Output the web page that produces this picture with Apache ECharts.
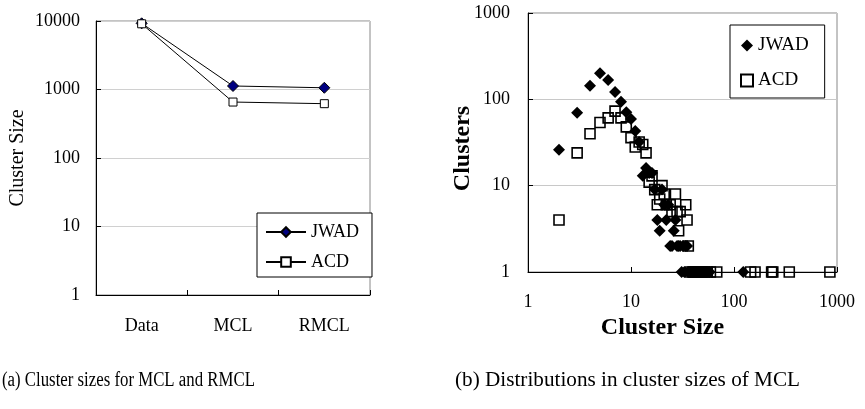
<!DOCTYPE html>
<html>
<head>
<meta charset="utf-8">
<script src="https://cdn.jsdelivr.net/npm/echarts@6/dist/echarts.min.js"></script>
<style>html,body{margin:0;padding:0;background:#fff}#c{width:865px;height:409px}</style>
</head>
<body>
<div id="c"></div>
<script>
// (a) Cluster sizes
const categoriesA = ['Data', 'MCL', 'RMCL'];
const jwadSizes = [9250, 1125, 1060];
const acdSizes = [9100, 656, 621];
const yTicksA = [1, 10, 100, 1000, 10000];

// (b) Distribution: cluster size (x) and number of clusters (y)
const jwadX = [2,3,4,5,6,7,8,9,10,11,12,13,14,15,16,17,18,19,20,21,22,23,24,25,26,27,28,29,30,32,34,35,
  31,33,36,37,38,39,40,41,42,43,44,45,46,47,48,49,50,52,55,58,123];
const jwadY = [26,70,144,200,168,122,94,71,59,43,32,13,16,14,14,9,4,3,9,6,4,6,2,2,3,4,2,2,2,2,2,2,
  1,1,1,1,1,1,1,1,1,1,1,1,1,1,1,1,1,1,1,1,1];
const acdX = [2,3,4,5,6,7,8,9,10,11,12,13,14,15,16,17,18,19,20,21,22,24,25,27,28,29,30,34,35,36,
  38,40,42,45,48,51,55,59,68,145,160,232,238,344,853];
const acdY = [4,24,40,54,61,73,61,48,36,28,32,30,24,11,13,9,6,7,10,8,6,6,5,8,5,3,5,6,4,2,
  1,1,1,1,1,1,1,1,1,1,1,1,1,1,1];
const xTicksB = [1, 10, 100, 1000];
const yTicksB = [1, 10, 100, 1000];

const serif = '"Liberation Serif","Times New Roman",serif';
const chart = echarts.init(document.getElementById('c'), null, {renderer: 'canvas'});

function pairs(xs, ys) { return xs.map((x, i) => [x, ys[i]]); }
const plain = v => String(Math.round(v));

const axisCommon = {
  axisLine: {show: true, lineStyle: {color: '#000', width: 1}},
  axisTick: {show: true, inside: true, length: 5, lineStyle: {color: '#000'}},
};

chart.setOption({
  animation: false,
  backgroundColor: '#fff',
  textStyle: {fontFamily: serif},
  grid: [
    {left: 96, top: 21, width: 274, height: 274, show: true, borderColor: '#888', borderWidth: 1, containLabel: false},
    {left: 528, top: 13, width: 309, height: 259, show: true, borderColor: '#888', borderWidth: 1, containLabel: false}
  ],
  xAxis: [
    Object.assign({}, axisCommon, {
      gridIndex: 0, type: 'category', data: categoriesA, boundaryGap: true,
      axisTick: {show: true, inside: true, length: 5, alignWithLabel: false, lineStyle: {color: '#000'}},
      axisLabel: {color: '#000', fontFamily: serif, fontSize: 18, margin: 22},
      splitLine: {show: false}
    }),
    Object.assign({}, axisCommon, {
      gridIndex: 1, type: 'log', logBase: 10, min: xTicksB[0], max: xTicksB[xTicksB.length - 1],
      axisLabel: {color: '#000', fontFamily: serif, fontSize: 18, margin: 21, formatter: plain},
      splitLine: {show: false}, minorTick: {show: false},
      name: 'Cluster Size', nameLocation: 'middle', nameGap: 41,
      nameTextStyle: {color: '#000', fontFamily: serif, fontSize: 24, fontWeight: 'bold', padding: [0, 40, 0, 0]}
    })
  ],
  yAxis: [
    Object.assign({}, axisCommon, {
      gridIndex: 0, type: 'log', logBase: 10, min: yTicksA[0], max: yTicksA[yTicksA.length - 1],
      axisLabel: {color: '#000', fontFamily: serif, fontSize: 18, margin: 16, formatter: plain},
      splitLine: {show: true, lineStyle: {color: '#d0d0d0', width: 1}},
      name: 'Cluster Size', nameLocation: 'middle', nameGap: 68,
      nameTextStyle: {color: '#000', fontFamily: serif, fontSize: 20}
    }),
    Object.assign({}, axisCommon, {
      gridIndex: 1, type: 'log', logBase: 10, min: yTicksB[0], max: yTicksB[yTicksB.length - 1],
      axisLabel: {color: '#000', fontFamily: serif, fontSize: 18, margin: 18, formatter: plain},
      splitLine: {show: true, lineStyle: {color: '#c8c8c8', width: 1}},
      name: 'Clusters', nameLocation: 'middle', nameGap: 53, nameMoveOverlap: false,
      nameTextStyle: {color: '#000', fontFamily: serif, fontSize: 24, fontWeight: 'bold', padding: [0, 12, 0, 0]}
    })
  ],
  legend: [
    {
      data: [{name: 'JWAD'}, {name: 'ACD'}],
      left: 257, top: 213, orient: 'vertical', itemWidth: 40, itemHeight: 12, itemGap: 12,
      padding: [10, 13, 6, 8], borderColor: '#000', borderWidth: 1, backgroundColor: '#fff',
      textStyle: {color: '#000', fontFamily: serif, fontSize: 18}, selectedMode: false
    },
    {
      data: [{name: 'JWAD '}, {name: 'ACD '}],
      left: 730, top: 25, orient: 'vertical', itemWidth: 12, itemHeight: 12, itemGap: 16,
      padding: [11, 16, 8, 10], borderColor: '#000', borderWidth: 1, backgroundColor: '#fff',
      textStyle: {color: '#000', fontFamily: serif, fontSize: 19}, selectedMode: false,
      formatter: n => n.trim()
    }
  ],
  series: [
    {
      name: 'JWAD', type: 'line', xAxisIndex: 0, yAxisIndex: 0, data: jwadSizes,
      symbol: 'diamond', symbolSize: 11, showAllSymbol: true,
      lineStyle: {color: '#000', width: 1}, itemStyle: {color: '#000080', borderColor: '#000', borderWidth: 1}
    },
    {
      name: 'ACD', type: 'line', xAxisIndex: 0, yAxisIndex: 0, data: acdSizes,
      symbol: 'rect', symbolSize: 8, showAllSymbol: true,
      lineStyle: {color: '#000', width: 1}, itemStyle: {color: '#fff', borderColor: '#000', borderWidth: 1}
    },
    {
      name: 'JWAD ', type: 'scatter', xAxisIndex: 1, yAxisIndex: 1, data: pairs(jwadX, jwadY),
      symbol: 'diamond', symbolSize: 12, itemStyle: {color: '#000', opacity: 1}
    },
    {
      name: 'ACD ', type: 'scatter', xAxisIndex: 1, yAxisIndex: 1, data: pairs(acdX, acdY),
      symbol: 'rect', symbolSize: 10, itemStyle: {color: 'rgba(255,255,255,0)', borderColor: '#000', borderWidth: 1.6, opacity: 1}
    }
  ],
  graphic: [
    {type: 'text', x: 2, y: 371, scaleX: 0.84, style: {text: '(a) Cluster sizes for MCL and RMCL', font: '20px ' + serif, fill: '#000'}},
    {type: 'text', x: 455, y: 371, scaleX: 1.06, style: {text: '(b) Distributions in cluster sizes of MCL', font: '20px ' + serif, fill: '#000'}}
  ]
});
</script>
</body>
</html>
